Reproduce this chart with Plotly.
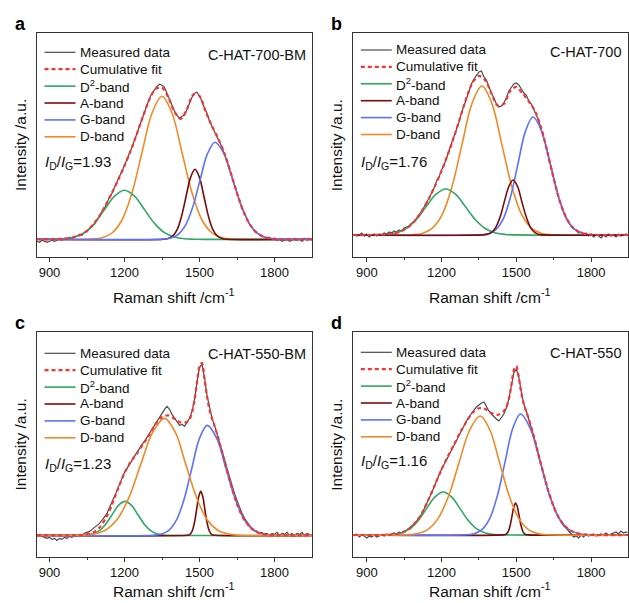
import plotly.graph_objects as go

W, H = 629, 603

# ---------------- shared x grid for measured spectra ----------------
shift_meas = list(range(850, 1951, 10))

# ---------------- panel a : C-HAT-700-BM ----------------
a_meas = [-2, -3, -1, -2, -3, -2, -1, -2, -1, 0, -1, 1, 0, 2, 1, 3, 3, 5, 4, 7,
          8, 11, 13, 15, 20, 23, 28, 31, 37, 42, 46, 52, 57, 63, 68, 74, 79, 86, 92, 99,
          106, 113, 120, 128, 134, 141, 146, 150, 153, 155, 154, 152, 146, 140, 134, 128, 124, 121, 123, 124,
          130, 136, 142, 146, 147, 143, 138, 131, 126, 118, 113, 108, 103, 97, 92, 85, 78, 70, 62, 54,
          46, 39, 31, 26, 20, 15, 12, 8, 6, 5, 3, 2, 1, 2, 0, 1, -1, 0, -2, -1,
          0, -2, -1, 1, -1, 0, -2, 1, -1, 0, -1]
a_cum_x = [850, 875, 900, 925, 950, 975, 1000, 1025, 1050, 1075, 1100, 1125, 1150, 1175, 1200, 1225, 1250,
           1275, 1300, 1325, 1350, 1375, 1400, 1425, 1450, 1475, 1500, 1525, 1550, 1575, 1600, 1625,
           1650, 1675, 1700, 1725, 1750, 1775, 1800, 1825, 1950]
a_cum_y = [0, 0, 0, 0.1, 0.4, 0.9, 2.2, 4.5, 8.5, 14.9, 23.5, 34.4, 46.6, 59.6, 73.6, 88.8, 105.8,
           123.7, 140.1, 150.6, 151.6, 142.1, 127.6, 120.3, 130.0, 144.9, 143.3, 127.6, 113.1, 100.7, 85.8, 66.6,
           46.2, 28.3, 15.4, 7.5, 3.2, 1.2, 0.4, 0, 0]
a_d2_x = [850, 920, 960, 1000, 1040, 1080, 1120, 1160, 1200, 1240, 1280, 1320, 1360, 1400, 1440, 1480, 1950]
a_d2_y = [0, 0.1, 0.5, 2.2, 6.6, 15.9, 29.7, 43.2, 49, 43.2, 29.7, 15.9, 6.6, 2.2, 0.5, 0.1, 0]
a_a_x = [850, 1356, 1374, 1392, 1410, 1428, 1446, 1464, 1482, 1500, 1518, 1536, 1554, 1572, 1590, 1608, 1950]
a_a_y = [0, 0.1, 0.8, 3.1, 9.5, 22.8, 42.5, 61.7, 70, 61.7, 42.5, 22.8, 9.5, 3.1, 0.8, 0.1, 0]
a_g_x = [850, 1352, 1382, 1412, 1442, 1472, 1502, 1532, 1562, 1598, 1634, 1670, 1706, 1742, 1778, 1814, 1950]
a_g_y = [0, 0.2, 1.1, 4.3, 13.1, 31.5, 58.9, 85.6, 97, 85.6, 58.9, 31.5, 13.1, 4.3, 1.1, 0.2, 0]
a_d_x = [850, 1070, 1110, 1150, 1190, 1230, 1270, 1310, 1350, 1390, 1430, 1470, 1510, 1550, 1590, 1630, 1950]
a_d_y = [0, 0.3, 1.6, 6.3, 19.3, 46.5, 86.8, 126.1, 143, 126.1, 86.8, 46.5, 19.3, 6.3, 1.6, 0.3, 0]

# ---------------- panel b : C-HAT-700 ----------------
b_meas = [1, -1, 0, 2, -1, 1, -2, 0, 1, -1, 1, 0, 2, 1, 3, 2, 4, 3, 5, 4,
          7, 8, 9, 12, 13, 17, 20, 24, 28, 32, 37, 42, 47, 54, 58, 65, 70, 77, 84, 90,
          98, 106, 113, 122, 129, 138, 145, 151, 156, 160, 163, 164, 158, 155, 148, 142, 137, 131, 128, 129,
          132, 137, 144, 148, 151, 152, 150, 146, 142, 140, 134, 131, 126, 120, 114, 106, 97, 88, 78, 67,
          57, 47, 37, 30, 22, 17, 12, 9, 6, 5, 2, 3, 0, 2, -1, 1, -2, 0, -1, -3,
          0, -2, 1, -1, 0, -2, 1, -1, 0, 1, -1]
b_cum_x = [846, 925, 950, 975, 1000, 1025, 1050, 1075, 1100, 1125, 1150, 1175, 1200, 1225, 1250,
           1275, 1300, 1325, 1350, 1375, 1400, 1425, 1450, 1475, 1500, 1525, 1550, 1575, 1600, 1625,
           1650, 1675, 1700, 1725, 1750, 1775, 1800, 1825, 1950]
b_cum_y = [0, 0, 0.2, 0.5, 1.2, 2.6, 5.3, 9.5, 16.5, 25.6, 36.8, 49.8, 64.1, 80.4, 98.2,
           117.6, 137.2, 152.6, 159.1, 154.8, 141.6, 129.4, 131.0, 143.8, 148.2, 141.4, 133.6, 124.0, 107.0, 82.8,
           56.3, 33.3, 17.3, 7.9, 3.2, 1.1, 0.3, 0, 0]
b_d2_x = [846, 937, 977, 1017, 1057, 1097, 1137, 1177, 1217, 1257, 1297, 1337, 1377, 1417, 1457, 1497, 1950]
b_d2_y = [0, 0.1, 0.5, 2.0, 6.2, 15, 27.9, 40.6, 46, 40.6, 27.9, 15, 6.2, 2.0, 0.5, 0.1, 0]
b_a_x = [846, 1365, 1382, 1400, 1417, 1435, 1452, 1470, 1487, 1505, 1522, 1540, 1557, 1575, 1592, 1610, 1950]
b_a_y = [0, 0.1, 0.6, 2.4, 7.4, 17.9, 33.4, 48.5, 55, 48.5, 33.4, 17.9, 7.4, 2.4, 0.6, 0.1, 0]
b_g_x = [846, 1357, 1387, 1417, 1447, 1477, 1507, 1537, 1567, 1601, 1635, 1669, 1703, 1737, 1771, 1805, 1950]
b_g_y = [0, 0.2, 1.3, 5.2, 15.9, 38.4, 71.6, 104.1, 118, 104.1, 71.6, 38.4, 15.9, 5.2, 1.3, 0.2, 0]
b_d_x = [846, 1082, 1122, 1162, 1202, 1242, 1282, 1322, 1362, 1402, 1442, 1482, 1522, 1562, 1602, 1642, 1950]
b_d_y = [0, 0.3, 1.6, 6.6, 20.1, 48.4, 90.4, 131.4, 149, 131.4, 90.4, 48.4, 20.1, 6.6, 1.6, 0.3, 0]

# ---------------- panel c : C-HAT-550-BM ----------------
c_meas = [0, 1, -1, -2, -3, -2, -4, -3, -5, -3, -4, -2, -3, -1, -2, 0, -1, 1, 0, 2,
          3, 4, 6, 8, 10, 12, 15, 18, 22, 28, 33, 39, 45, 52, 57, 63, 67, 72, 76, 80,
          84, 87, 91, 94, 98, 102, 106, 110, 115, 118, 122, 126, 129, 126, 121, 117, 113, 110, 111, 109,
          113, 117, 124, 136, 153, 168, 171, 158, 140, 127, 117, 110, 102, 94, 85, 76, 67, 58, 50, 42,
          35, 28, 22, 17, 13, 10, 7, 5, 4, 2, 3, 1, 2, 0, 2, 1, 3, 0, 2, 1,
          3, 0, 2, -1, 2, 1, 3, 0, 2, 1, 0]
c_cum_x = [850, 950, 975, 1000, 1025, 1050, 1075, 1100, 1125, 1150, 1175, 1200, 1225, 1250, 1275, 1300,
           1325, 1350, 1375, 1400, 1425, 1450, 1460, 1470, 1480, 1490, 1500, 1510, 1520, 1530, 1540, 1550,
           1560, 1570, 1600, 1625, 1650, 1675, 1700, 1725, 1750, 1775, 1800, 1950]
c_cum_y = [0, 0, 0, 0.1, 0.3, 1.1, 3.0, 7.8, 16.9, 30.8, 47.2, 62.4, 73.6, 82.0, 91.5, 100.9,
           111.5, 118.4, 119.9, 116.6, 112.8, 113.4, 116.1, 122.9, 134.8, 153.0, 169.0, 172.4, 156.5, 138.8, 125.6, 116.9,
           109.4, 101.6, 74.3, 51.3, 31.3, 17.4, 8.8, 3.8, 1.5, 0.5, 0, 0]
c_d2_x = [850, 1020, 1046, 1072, 1098, 1124, 1150, 1176, 1202, 1228, 1254, 1280, 1306, 1332, 1358, 1384, 1950]
c_d2_y = [0, 0.1, 0.4, 1.5, 4.6, 11, 20.6, 30, 34, 30, 20.6, 11, 4.6, 1.5, 0.4, 0.1, 0]
c_a_x = [850, 1449, 1457, 1465, 1473, 1481, 1489, 1497, 1505, 1513, 1521, 1529, 1537, 1545, 1553, 1561, 1950]
c_a_y = [0, 0.1, 0.5, 1.9, 5.9, 14.3, 26.7, 38.8, 44, 38.8, 26.7, 14.3, 5.9, 1.9, 0.5, 0.1, 0]
c_g_x = [850, 1314, 1345, 1376, 1407, 1438, 1469, 1500, 1531, 1569, 1606, 1644, 1681, 1719, 1756, 1794, 1950]
c_g_y = [0, 0.2, 1.2, 4.8, 14.9, 35.8, 66.8, 97, 110, 97, 66.8, 35.8, 14.9, 4.8, 1.2, 0.2, 0]
c_d_x = [850, 1028, 1075, 1123, 1170, 1218, 1265, 1313, 1360, 1403, 1445, 1488, 1530, 1573, 1615, 1658, 1950]
c_d_y = [0, 0.2, 1.3, 5.1, 15.8, 38, 71, 103.2, 117, 103.2, 71, 38, 15.8, 5.1, 1.3, 0.2, 0]

# ---------------- panel d : C-HAT-550 ----------------
d_meas = [-1, 1, -2, 0, -1, -3, -1, -2, 0, -2, -1, 0, -1, 1, 0, 1, 2, 1, 3, 2,
          4, 5, 7, 9, 11, 14, 17, 21, 26, 31, 37, 42, 48, 55, 60, 66, 70, 75, 80, 85,
          90, 95, 100, 105, 110, 114, 118, 122, 125, 128, 130, 132, 133, 128, 124, 121, 118, 116, 114, 117,
          121, 127, 136, 149, 162, 166, 158, 143, 131, 124, 116, 109, 99, 89, 79, 70, 60, 51, 42, 35,
          28, 22, 17, 13, 9, 7, 4, 2, -2, -1, -3, 0, -2, 1, -1, 0, 1, -1, 0, 1,
          0, 2, 0, 1, 2, 3, 1, 4, 2, 3, 2]
d_cum_x = [846, 950, 975, 1000, 1025, 1050, 1075, 1100, 1125, 1150, 1175, 1200, 1225, 1250, 1275, 1300,
           1325, 1350, 1375, 1400, 1425, 1450, 1460, 1470, 1480, 1490, 1500, 1510, 1520, 1530, 1540, 1550,
           1575, 1600, 1625, 1650, 1675, 1700, 1725, 1750, 1775, 1800, 1950]
d_cum_y = [0, 0, 0.1, 0.4, 1.2, 3.2, 7.0, 13.8, 23.7, 36.7, 51.1, 65.5, 78.5, 90.4, 102.6, 113.5,
           122.4, 126.8, 126.0, 121.9, 120.1, 124.1, 128.1, 135.9, 149.5, 165.0, 169.0, 157.4, 141.9, 130.9, 123.3, 115.9,
           94.3, 69.7, 46.9, 28.1, 15.5, 7.6, 3.4, 1.4, 0.5, 0, 0]
d_d2_x = [846, 969, 1003, 1037, 1071, 1105, 1139, 1173, 1207, 1241, 1275, 1309, 1343, 1377, 1411, 1445, 1950]
d_d2_y = [0, 0.1, 0.5, 1.9, 5.8, 14, 26.1, 37.9, 43, 37.9, 26.1, 14, 5.8, 1.9, 0.5, 0.1, 0]
d_a_x = [846, 1448, 1455, 1462, 1469, 1476, 1483, 1490, 1497, 1504, 1511, 1518, 1525, 1532, 1539, 1546, 1950]
d_a_y = [0, 0.1, 0.4, 1.4, 4.3, 10.4, 19.4, 28.2, 32, 28.2, 19.4, 10.4, 4.3, 1.4, 0.4, 0.1, 0]
d_g_x = [846, 1300, 1331, 1362, 1393, 1424, 1455, 1486, 1517, 1556, 1595, 1634, 1673, 1712, 1751, 1790, 1950]
d_g_y = [0, 0.2, 1.3, 5.3, 16.3, 39.3, 73.4, 106.7, 121, 106.7, 73.4, 39.3, 16.3, 5.3, 1.3, 0.2, 0]
d_d_x = [846, 1058, 1100, 1143, 1185, 1228, 1270, 1313, 1355, 1394, 1433, 1472, 1511, 1550, 1589, 1628, 1950]
d_d_y = [0, 0.2, 1.3, 5.2, 16.1, 38.7, 72.2, 105, 119, 105, 72.2, 38.7, 16.1, 5.2, 1.3, 0.2, 0]

# ---------------- labels ----------------
panel_letters = ["a", "b", "c", "d"]
sample_names = ["C-HAT-700-BM", "C-HAT-700", "C-HAT-550-BM", "C-HAT-550"]
ratios = ["1.93", "1.76", "1.23", "1.16"]
band_names = ["Measured data", "Cumulative fit", "D<sup>2</sup>-band", "A-band", "G-band", "D-band"]
x_ticks = [900, 1200, 1500, 1800]
x_minor = [1050, 1350, 1650]

GRAY = "#4a4a4a"
RED = "#ff3030"
GREEN = "#2ea862"
DARKRED = "#7d0a0a"
BLUE = "#5a72ff"
ORANGE = "#f18a25"
FRAME = "#333333"
TXT = "#111111"
FONT = "Liberation Sans, Arial, sans-serif"

legend_styles = [
    (GRAY, 1.2, "solid"),
    (RED, 2.2, "4px,3px"),
    (GREEN, 1.6, "solid"),
    (DARKRED, 1.6, "solid"),
    (BLUE, 1.6, "solid"),
    (ORANGE, 1.6, "solid"),
]

panels = [
    dict(meas=a_meas, cum=(a_cum_x, a_cum_y), d2=(a_d2_x, a_d2_y), A=(a_a_x, a_a_y), G=(a_g_x, a_g_y), D=(a_d_x, a_d_y),
         top_band="G", xr=[850, 1950], yr=[-17.4, 206], px=(37, 312), py=(33.3, 256.7),
         leg_y=52.3, name_y=55, ratio_y=162.3, xtitle_y=295.7),
    dict(meas=b_meas, cum=(b_cum_x, b_cum_y), d2=(b_d2_x, b_d2_y), A=(b_a_x, b_a_y), G=(b_g_x, b_g_y), D=(b_d_x, b_d_y),
         top_band="A", xr=[846, 1946], yr=[-21.7, 201.7], px=(353.3, 627.5), py=(33.3, 256.7),
         leg_y=50.0, name_y=52, ratio_y=162.3, xtitle_y=295.7),
    dict(meas=c_meas, cum=(c_cum_x, c_cum_y), d2=(c_d2_x, c_d2_y), A=(c_a_x, c_a_y), G=(c_g_x, c_g_y), D=(c_d_x, c_d_y),
         top_band="D", xr=[850, 1950], yr=[-21.3, 203], px=(37, 312), py=(332.3, 556.7),
         leg_y=353.3, name_y=354, ratio_y=464, xtitle_y=590),
    dict(meas=d_meas, cum=(d_cum_x, d_cum_y), d2=(d_d2_x, d_d2_y), A=(d_a_x, d_a_y), G=(d_g_x, d_g_y), D=(d_d_x, d_d_y),
         top_band="D", xr=[846, 1946], yr=[-21.7, 202.7], px=(353.3, 627.5), py=(332.3, 556.7),
         leg_y=352.3, name_y=353, ratio_y=461, xtitle_y=590),
]

fig = go.Figure()
layout = dict(width=W, height=H, margin=dict(l=0, r=0, t=0, b=0),
              paper_bgcolor="white", plot_bgcolor="white", showlegend=False,
              font=dict(family=FONT, color=TXT))
annotations = []
shapes = []

for i, p in enumerate(panels):
    k = "" if i == 0 else str(i + 1)
    xa, ya = "x" + k, "y" + k
    band_specs = {
        "d2": (p["d2"], band_names[2], GREEN),
        "A": (p["A"], band_names[3], DARKRED),
        "G": (p["G"], band_names[4], BLUE),
        "D": (p["D"], band_names[5], ORANGE),
    }
    fig.add_trace(go.Scatter(x=shift_meas, y=p["meas"], mode="lines", name=band_names[0],
                             line=dict(color=GRAY, width=1.2), xaxis=xa, yaxis=ya))
    order = ["D", "d2", "A", "G"]
    order.remove(p["top_band"])
    order.append(p["top_band"])
    for key in order:
        (bx, by), nm, col = band_specs[key]
        fig.add_trace(go.Scatter(x=bx, y=by, mode="lines", name=nm,
                                 line=dict(color=col, width=1.6, shape="spline", smoothing=1.0),
                                 xaxis=xa, yaxis=ya))
    cx, cy = p["cum"]
    fig.add_trace(go.Scatter(x=cx, y=cy, mode="lines", name=band_names[1],
                             line=dict(color=RED, width=2.2, dash="4px,3px", shape="spline", smoothing=0.8),
                             xaxis=xa, yaxis=ya))

    x0, x1 = p["px"]
    y0, y1 = p["py"]
    xdom = [x0 / W, x1 / W]
    ydom = [1 - y1 / H, 1 - y0 / H]
    layout["xaxis" + k] = dict(domain=xdom, anchor=ya, range=p["xr"], showgrid=False, zeroline=False,
                               showline=True, mirror=True, linecolor=FRAME, linewidth=1,
                               ticks="outside", ticklen=4, tickwidth=1, tickcolor=FRAME,
                               tickvals=x_ticks, ticktext=[str(t) for t in x_ticks],
                               tickfont=dict(size=13, family=FONT, color=TXT),
                               minor=dict(tickvals=x_minor, ticks="outside", ticklen=2, tickcolor=FRAME))
    layout["yaxis" + k] = dict(domain=ydom, anchor=xa, range=p["yr"], showgrid=False, zeroline=False,
                               showline=True, mirror=True, linecolor=FRAME, linewidth=1,
                               showticklabels=False, ticks="")
    # manual legend
    for j, (col, wid, dash) in enumerate(legend_styles):
        ry = p["leg_y"] + j * 16.9
        shapes.append(dict(type="line", xref="paper", yref="paper",
                           x0=(x0 + 7.5) / W, x1=(x0 + 38.5) / W, y0=1 - ry / H, y1=1 - ry / H,
                           line=dict(color=col, width=wid, dash=dash)))
        annotations.append(dict(text=band_names[j], x=(x0 + 40.5) / W, y=1 - ry / H,
                                xref="paper", yref="paper", showarrow=False, xanchor="left", yanchor="middle",
                                font=dict(size=13.5, family=FONT, color=TXT)))
    # panel letter
    annotations.append(dict(text="<b>%s</b>" % panel_letters[i], x=(x0 - 17) / W, y=1 - (y0 - 9) / H,
                            xref="paper", yref="paper", showarrow=False, xanchor="center", yanchor="middle",
                            font=dict(size=18, family=FONT, color="#000000")))
    # sample name
    annotations.append(dict(text=sample_names[i], x=(x1 - 4.5) / W, y=1 - p["name_y"] / H,
                            xref="paper", yref="paper", showarrow=False, xanchor="right", yanchor="middle",
                            font=dict(size=14.5, family=FONT, color=TXT)))
    # ratio
    annotations.append(dict(text="<i>I</i><sub>D</sub>/<i>I</i><sub>G</sub>=" + ratios[i],
                            x=(x0 + 6) / W, y=1 - p["ratio_y"] / H,
                            xref="paper", yref="paper", showarrow=False, xanchor="left", yanchor="middle",
                            font=dict(size=15, family=FONT, color=TXT)))
    # axis titles
    annotations.append(dict(text="Raman shift /cm<sup>-1</sup>", x=(x0 + x1) / 2 / W, y=1 - p["xtitle_y"] / H,
                            xref="paper", yref="paper", showarrow=False, xanchor="center", yanchor="middle",
                            font=dict(size=15.5, family=FONT, color=TXT)))
    annotations.append(dict(text="Intensity /a.u.", x=(x0 - 17) / W, y=1 - ((y0 + y1) / 2) / H,
                            xref="paper", yref="paper", showarrow=False, xanchor="center", yanchor="middle",
                            textangle=-90, font=dict(size=15.5, family=FONT, color=TXT)))

layout["annotations"] = annotations
layout["shapes"] = shapes
fig.update_layout(**layout)
fig.write_html("out.html")
